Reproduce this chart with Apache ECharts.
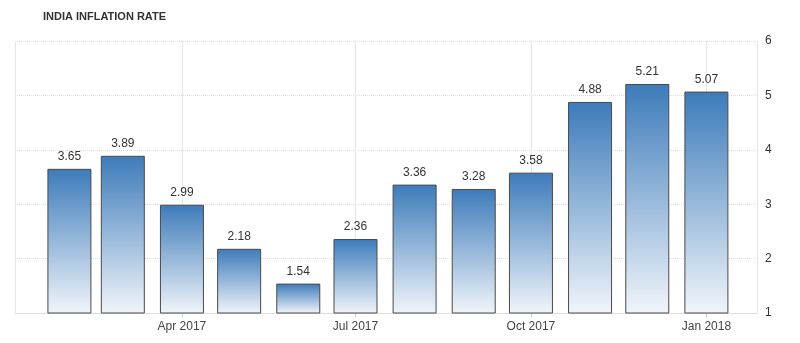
<!DOCTYPE html>
<html>
<head>
<meta charset="utf-8">
<script src="https://cdn.jsdelivr.net/npm/echarts@6/dist/echarts.min.js"></script>
<style>
html,body{margin:0;padding:0;background:#fff;}
#chart{width:800px;height:343px;}
</style>
</head>
<body>
<div id="chart"></div>
<script>
const months = ['2017-02-01','2017-03-01','2017-04-01','2017-05-01','2017-06-01','2017-07-01','2017-08-01','2017-09-01','2017-10-01','2017-11-01','2017-12-01','2018-01-01'];
const inflation = [3.65, 3.89, 2.99, 2.18, 1.54, 2.36, 3.36, 3.28, 3.58, 4.88, 5.21, 5.07];
const monthNames = ['Jan','Feb','Mar','Apr','May','Jun','Jul','Aug','Sep','Oct','Nov','Dec'];
const yTicks = [1, 2, 3, 4, 5, 6];

const chart = echarts.init(document.getElementById('chart'), null, {renderer: 'canvas'});
const quarter = 91 * 24 * 3600 * 1000;
chart.setOption({
  animation: false,
  textStyle: {fontFamily: 'Liberation Sans, Arial, sans-serif'},
  title: {
    text: 'INDIA INFLATION RATE',
    left: 38, top: 6,
    textStyle: {fontSize: 11, fontWeight: 'bold', color: '#333'}
  },
  grid: {left: 15, right: 43, top: 41, bottom: 30},
  xAxis: {
    type: 'time',
    min: '2017-01-15',
    max: '2018-01-16',
    minInterval: quarter,
    maxInterval: quarter,
    axisLine: {show: true, lineStyle: {color: '#ddd'}},
    axisTick: {show: true, length: 4, lineStyle: {color: '#ccc'}},
    axisLabel: {
      color: '#444', fontSize: 12, margin: 8,
      showMinLabel: false, showMaxLabel: false,
      formatter: function (v) {
        const d = new Date(v);
        return monthNames[d.getMonth()] + ' ' + d.getFullYear();
      }
    },
    splitLine: {show: true, lineStyle: {color: '#e6e6e6', type: 'solid'}}
  },
  yAxis: {
    type: 'value',
    position: 'right',
    min: yTicks[0], max: yTicks[yTicks.length - 1], interval: 1,
    axisLine: {show: false},
    axisTick: {show: false},
    axisLabel: {color: '#333', fontSize: 12, margin: 8},
    splitLine: {show: true, lineStyle: {color: '#ddd', type: 'dotted'}}
  },
  series: [{
    type: 'bar',
    barWidth: 44,
    data: months.map((m, i) => [m, inflation[i]]),
    itemStyle: {
      borderColor: '#4a4a4a',
      borderWidth: 1,
      color: new echarts.graphic.LinearGradient(0, 0, 0, 1, [
        {offset: 0, color: '#3d7bba'},
        {offset: 1, color: '#f1f5fa'}
      ])
    },
    label: {
      show: true, position: 'top', distance: 6,
      color: '#333', fontSize: 12,
      formatter: p => p.value[1].toFixed(2)
    }
  }]
});
</script>
</body>
</html>
